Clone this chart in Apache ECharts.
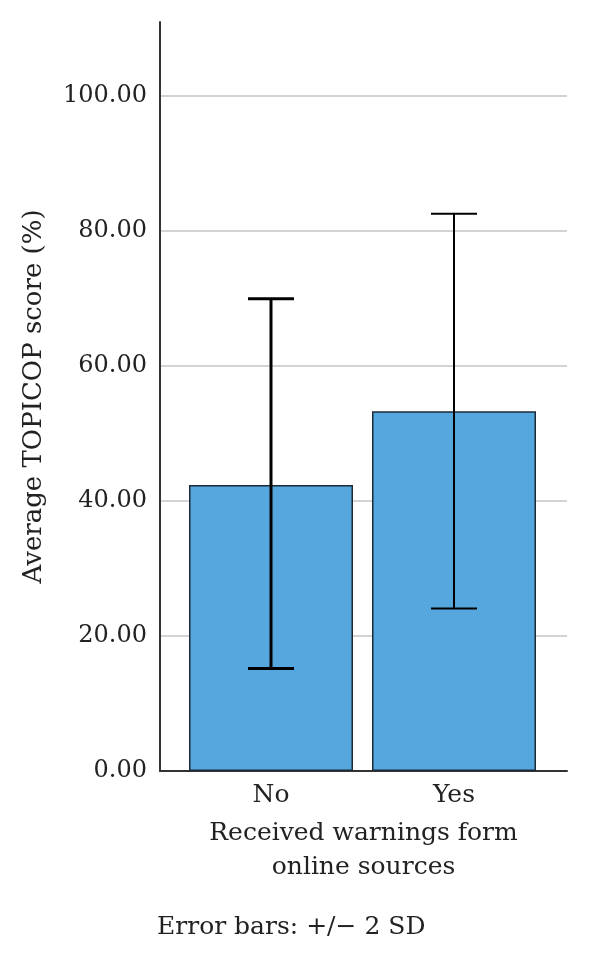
<!DOCTYPE html>
<html>
<head>
<meta charset="utf-8">
<title>TOPICOP score</title>
<script src="https://cdn.jsdelivr.net/npm/echarts@6/dist/echarts.min.js"></script>
<style>
  html, body { margin: 0; padding: 0; background: #fff; }
  #chart { width: 600px; height: 964px; }
</style>
</head>
<body>
<div id="chart"></div>
<script>
  // data
  const categories = ['No', 'Yes'];
  const means = [42.4, 53.3];
  const upper = [70.0, 82.6];   // mean + 2 SD
  const lower = [15.2, 24.1];   // mean - 2 SD
  const yTicks = [0, 20, 40, 60, 80, 100];

  const font = '"DejaVu Serif", serif';
  const errWidths = [3, 2];

  const chart = echarts.init(document.getElementById('chart'));

  const barData = means.map((v, i) => [i + 1, v]);
  const errData = means.map((v, i) => [i + 1, lower[i], upper[i]]);

  const option = {
    animation: false,
    backgroundColor: '#fff',
    grid: { left: 160, right: 33, top: 22, bottom: 193 },
    xAxis: {
      type: 'value',
      min: 0.3934,
      max: 2.6175,
      name: 'Received warnings form\nonline sources',
      nameLocation: 'middle',
      nameGap: 45,
      nameTextStyle: { fontFamily: font, fontSize: 25, color: '#222', lineHeight: 34 },
      axisLine: { show: true, lineStyle: { color: '#333', width: 2 } },
      axisTick: { show: false },
      splitLine: { show: false },
      axisLabel: {
        customValues: [1, 2],
        formatter: v => categories[Math.round(v) - 1] || '',
        fontFamily: font, fontSize: 25, color: '#222', margin: 12
      }
    },
    yAxis: {
      type: 'value',
      min: 0,
      max: 111,
      interval: 20,
      name: 'Average TOPICOP score (%)',
      nameLocation: 'middle',
      nameGap: 113,
      nameTextStyle: { fontFamily: font, fontSize: 26, color: '#222' },
      axisLine: { show: true, lineStyle: { color: '#333', width: 2 } },
      axisTick: { show: false },
      axisLabel: {
        showMaxLabel: false,
        formatter: v => yTicks.includes(v) ? v.toFixed(2) : '',
        fontFamily: font, fontSize: 24, color: '#222', margin: 13
      },
      splitLine: { show: true, showMaxLine: false, showMinLine: false, lineStyle: { color: '#c4c4c4', width: 1.5 } }
    },
    series: [
      {
        type: 'bar',
        data: barData,
        barWidth: 164,
        itemStyle: { color: '#55a7de', borderColor: '#1d2b38', borderWidth: 1.5 }
      },
      {
        type: 'custom',
        data: errData,
        z: 10,
        renderItem: function (params, api) {
          const x = api.value(0);
          const top = api.coord([x, api.value(2)]);
          const bot = api.coord([x, api.value(1)]);
          const half = 23;
          const w = errWidths[params.dataIndex];
          const style = { stroke: '#000', lineWidth: w };
          return {
            type: 'group',
            children: [
              { type: 'line', shape: { x1: top[0], y1: top[1], x2: bot[0], y2: bot[1] }, style: style },
              { type: 'line', shape: { x1: top[0] - half, y1: top[1], x2: top[0] + half, y2: top[1] }, style: style },
              { type: 'line', shape: { x1: bot[0] - half, y1: bot[1], x2: bot[0] + half, y2: bot[1] }, style: style }
            ]
          };
        }
      }
    ],
    graphic: [
      {
        type: 'text',
        left: 157,
        top: 915,
        style: { text: 'Error bars: +/\u2212 2 SD', font: '25px ' + font, fill: '#222' }
      }
    ]
  };

  chart.setOption(option);
</script>
</body>
</html>
